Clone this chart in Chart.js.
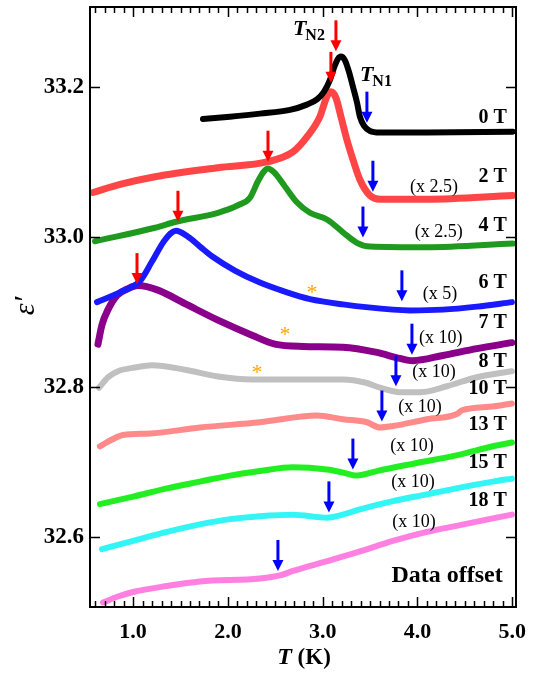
<!DOCTYPE html>
<html>
<head>
<meta charset="utf-8">
<script src="https://cdn.jsdelivr.net/npm/chart.js@4.4.1/dist/chart.umd.min.js"></script>
<style>
  body { margin: 0; background: #fff; }
  canvas { display: block; }
</style>
</head>
<body>
<canvas id="chart-1" width="536" height="677"></canvas>
<script>
// epsilon' vs T at each field, curves offset vertically
const fields = ["0 T", "2 T", "4 T", "6 T", "7 T", "8 T", "10 T", "13 T", "15 T", "18 T"];
const gains = ["", "(x 2.5)", "(x 2.5)", "(x 5)", "(x 10)", "(x 10)", "(x 10)", "(x 10)", "(x 10)", "(x 10)"];

const t0T = [1.737, 2.022, 2.338, 2.655, 2.834, 2.94, 3.013, 3.077, 3.119, 3.161, 3.193, 3.235, 3.277, 3.319, 3.362, 3.393, 3.435, 3.499, 3.604, 4.1, 5.007];
const e0T = [33.157, 33.160, 33.164, 33.169, 33.176, 33.183, 33.193, 33.209, 33.225, 33.237, 33.240, 33.235, 33.220, 33.200, 33.179, 33.160, 33.148, 33.141, 33.139, 33.139, 33.140];

const t2T = [0.577, 0.872, 1.231, 1.895, 2.423, 2.686, 2.834, 2.971, 3.045, 3.087, 3.140, 3.193, 3.256, 3.319, 3.393, 3.499, 3.604, 4.1, 5.007];
const e2T = [33.059, 33.070, 33.080, 33.092, 33.100, 33.113, 33.133, 33.160, 33.187, 33.193, 33.185, 33.160, 33.129, 33.103, 33.076, 33.055, 33.050, 33.050, 33.055];

const t4T = [0.598, 1.231, 1.452, 1.895, 2.106, 2.233, 2.317, 2.380, 2.423, 2.486, 2.602, 2.728, 2.866, 3.045, 3.214, 3.362, 3.499, 4.1, 5.007];
const e4T = [32.994, 33.012, 33.020, 33.032, 33.042, 33.052, 33.074, 33.087, 33.091, 33.086, 33.067, 33.046, 33.032, 33.023, 33.006, 32.992, 32.987, 32.986, 32.991];

const t6T = [0.619, 0.861, 1.072, 1.199, 1.336, 1.452, 1.579, 1.705, 1.832, 2.074, 2.338, 2.623, 2.866, 3.214, 3.741, 3.921, 4.269, 4.627, 4.997];
const e6T = [32.913, 32.926, 32.941, 32.967, 32.996, 33.008, 33.000, 32.987, 32.974, 32.955, 32.939, 32.926, 32.917, 32.910, 32.903, 32.902, 32.903, 32.907, 32.913];

const t7T = [0.629, 0.672, 0.735, 0.830, 0.946, 1.051, 1.262, 1.547, 1.895, 2.254, 2.497, 2.792, 3.214, 3.572, 3.815, 3.952, 4.269, 4.627, 4.997];
const e7T = [32.857, 32.883, 32.903, 32.922, 32.931, 32.935, 32.929, 32.911, 32.889, 32.869, 32.857, 32.854, 32.853, 32.846, 32.838, 32.835, 32.842, 32.851, 32.859];

const t8T = [0.640, 0.735, 0.840, 1.020, 1.199, 1.547, 1.895, 2.254, 2.792, 3.214, 3.446, 3.604, 3.815, 4.026, 4.311, 4.627, 4.997];
const e8T = [32.799, 32.813, 32.821, 32.826, 32.829, 32.823, 32.814, 32.810, 32.810, 32.810, 32.806, 32.799, 32.793, 32.793, 32.801, 32.813, 32.821];

const t10T = [0.650, 0.777, 0.893, 1.178, 1.705, 2.338, 2.940, 3.214, 3.467, 3.604, 3.741, 4.1, 4.416, 4.469, 4.796, 4.997];
const e10T = [32.721, 32.730, 32.736, 32.738, 32.746, 32.753, 32.762, 32.757, 32.753, 32.746, 32.748, 32.757, 32.764, 32.769, 32.774, 32.778];

const t13T = [0.650, 0.999, 1.357, 1.705, 2.022, 2.338, 2.686, 3.045, 3.214, 3.362, 3.572, 3.921, 4.448, 4.796, 4.997];
const e13T = [32.644, 32.654, 32.665, 32.674, 32.682, 32.688, 32.693, 32.690, 32.686, 32.682, 32.688, 32.697, 32.710, 32.721, 32.726];

const t15T = [0.672, 0.999, 1.357, 1.705, 2.022, 2.338, 2.686, 3.045, 3.182, 3.393, 3.741, 4.1, 4.448, 4.796, 4.997];
const e15T = [32.584, 32.595, 32.607, 32.617, 32.624, 32.628, 32.630, 32.626, 32.629, 32.637, 32.648, 32.657, 32.666, 32.674, 32.678];

const t18T = [0.682, 0.840, 0.999, 1.357, 1.705, 2.338, 2.549, 2.686, 3.045, 3.393, 3.741, 4.1, 4.448, 4.796, 4.997];
const e18T = [32.513, 32.521, 32.527, 32.535, 32.541, 32.545, 32.549, 32.555, 32.568, 32.581, 32.595, 32.607, 32.616, 32.625, 32.630];

// T_N2 (red arrows, 0-7 T) and T_N1 (blue arrows, all fields)
const tn2T = [3.140, 3.087, 2.423, 1.473, 1.041];
const tn2E = [33.247, 33.205, 33.100, 33.020, 32.937];
const tn1T = [3.467, 3.530, 3.425, 3.836, 3.942, 3.773, 3.625, 3.319, 3.066, 2.528];
const tn1E = [33.152, 33.060, 32.999, 32.914, 32.843, 32.801, 32.754, 32.690, 32.633, 32.555];

// extra anomalies (6, 7, 8 T)
const starT = [2.887, 2.602, 2.307];
const starE = [32.930, 32.874, 32.823];

const xTicks = [1, 2, 3, 4, 5];
const yTicks = [32.6, 32.8, 33.0, 33.2];

const temps = [t0T, t2T, t4T, t6T, t7T, t8T, t10T, t13T, t15T, t18T];
const eps = [e0T, e2T, e4T, e6T, e7T, e8T, e10T, e13T, e15T, e18T];
const colors = ["#000000", "#ff4545", "#1f9a1f", "#1a1aff", "#8b008b", "#c0c0c0", "#ff8a8a", "#22ee22", "#33f5f5", "#ff80e0"];
const widths = [6, 7, 6, 6, 7, 6, 6, 6, 6, 6];

const SERIF = '"Liberation Serif", "Times New Roman", serif';

const decor = {
  id: "decor",
  afterDatasetsDraw(chart) {
    const { ctx, chartArea: a, scales: { x, y } } = chart;
    ctx.save();

    const arrow = (t, e, color) => {
      const px = x.getPixelForValue(t), py = y.getPixelForValue(e);
      ctx.strokeStyle = color;
      ctx.fillStyle = color;
      ctx.lineWidth = 3;
      ctx.beginPath();
      ctx.moveTo(px, py - 31);
      ctx.lineTo(px, py - 9);
      ctx.stroke();
      ctx.beginPath();
      ctx.moveTo(px - 5.5, py - 11);
      ctx.lineTo(px + 5.5, py - 11);
      ctx.lineTo(px, py);
      ctx.closePath();
      ctx.fill();
    };
    tn2T.forEach((t, i) => arrow(t, tn2E[i], "#ff0000"));
    tn1T.forEach((t, i) => arrow(t, tn1E[i], "#0000ff"));

    ctx.fillStyle = "#ffa500";
    ctx.font = "22px " + SERIF;
    ctx.textAlign = "center";
    ctx.textBaseline = "middle";
    starT.forEach((t, i) => ctx.fillText("*", x.getPixelForValue(t), y.getPixelForValue(starE[i]) + 4));

    // frame with inward ticks
    ctx.strokeStyle = "#000";
    ctx.lineWidth = 2;
    ctx.strokeRect(a.left, a.top, a.width, a.height);
    ctx.lineWidth = 1.5;
    ctx.beginPath();
    for (let i = 6; i <= 50; i++) {
      const px = Math.round(x.getPixelForValue(i / 10)) + 0.5;
      const len = i % 10 === 0 ? 10 : 6;
      ctx.moveTo(px, a.bottom);
      ctx.lineTo(px, a.bottom - len);
      ctx.moveTo(px, a.top);
      ctx.lineTo(px, a.top + len);
    }
    yTicks.forEach(v => {
      const py = Math.round(y.getPixelForValue(v)) + 0.5;
      ctx.moveTo(a.left, py);
      ctx.lineTo(a.left + 10, py);
      ctx.moveTo(a.right, py);
      ctx.lineTo(a.right - 10, py);
    });
    ctx.stroke();

    // field labels and gain factors
    ctx.fillStyle = "#000";
    ctx.textAlign = "right";
    ctx.textBaseline = "middle";
    const labelE = [33.159, 33.080, 33.014, 32.939, 32.886, 32.834, 32.797, 32.750, 32.699, 32.648];
    ctx.font = "bold 20px " + SERIF;
    fields.forEach((f, i) => ctx.fillText(f, x.getPixelForValue(4.944), y.getPixelForValue(labelE[i])));
    ctx.font = "bold 24px " + SERIF;
    ctx.fillText("Data offset", x.getPixelForValue(4.90), y.getPixelForValue(32.548));

    const gainT = [0, 4.174, 4.226, 4.237, 4.247, 4.174, 4.026, 3.942, 3.952, 3.963];
    const gainE = [0, 33.066, 33.006, 32.923, 32.865, 32.819, 32.773, 32.721, 32.673, 32.620];
    ctx.font = "18px " + SERIF;
    ctx.textAlign = "center";
    gains.forEach((g, i) => {
      if (g) ctx.fillText(g, x.getPixelForValue(gainT[i]), y.getPixelForValue(gainE[i]));
    });

    // T_N2 / T_N1 markers
    const tn = (sub, t, e) => {
      const px = x.getPixelForValue(t), py = y.getPixelForValue(e);
      ctx.textAlign = "left";
      ctx.textBaseline = "alphabetic";
      ctx.font = "italic bold 22px " + SERIF;
      ctx.fillText("T", px, py);
      const w = ctx.measureText("T").width;
      ctx.font = "bold 16px " + SERIF;
      ctx.fillText(sub, px + w - 1, py + 5);
    };
    tn("N2", 2.686, 33.269);
    tn("N1", 3.393, 33.207);

    // axis titles
    ctx.textBaseline = "middle";
    ctx.font = "italic bold 24px " + SERIF;
    const tw = ctx.measureText("T").width;
    ctx.font = "bold 23px " + SERIF;
    const kw = ctx.measureText(" (K)").width;
    const cx = (a.left + a.right) / 2 + 1;
    ctx.textAlign = "left";
    ctx.font = "italic bold 24px " + SERIF;
    ctx.fillText("T", cx - (tw + kw) / 2, 658);
    ctx.font = "bold 23px " + SERIF;
    ctx.fillText(" (K)", cx - (tw + kw) / 2 + tw, 658);

    ctx.translate(26, 306);
    ctx.rotate(-Math.PI / 2);
    ctx.textAlign = "center";
    ctx.font = "italic 30px " + SERIF;
    ctx.fillText("\u03b5\u2032", 0, 0);

    ctx.restore();
  }
};

const ctx1 = document.getElementById("chart-1").getContext("2d");
const myChart = new Chart(ctx1, {
  type: "scatter",
  data: {
    datasets: fields.map((f, i) => ({
      label: f,
      data: temps[i].map((t, j) => ({ x: t, y: eps[i][j] })),
      showLine: true,
      borderColor: colors[i],
      backgroundColor: colors[i],
      borderWidth: widths[i],
      borderCapStyle: "round",
      borderJoinStyle: "round",
      pointRadius: 0,
      cubicInterpolationMode: "monotone",
    })),
  },
  options: {
    responsive: false,
    animation: false,
    devicePixelRatio: 1,
    layout: { padding: { left: 0, right: 20, top: 7, bottom: 0 } },
    plugins: { legend: { display: false }, tooltip: { enabled: false } },
    scales: {
      x: {
        type: "linear",
        min: 0.545,
        max: 5.04,
        grid: { display: false, drawTicks: false },
        border: { display: false },
        afterBuildTicks: s => { s.ticks = xTicks.map(v => ({ value: v })); },
        afterFit: s => { s.height = 70; s.paddingLeft = 0; s.paddingRight = 0; },
        ticks: {
          autoSkip: false,
          maxRotation: 0,
          padding: 12,
          color: "#000",
          font: { family: SERIF, size: 22, weight: "bold" },
          callback: v => v.toFixed(1),
        },
      },
      y: {
        type: "linear",
        min: 32.507,
        max: 33.306,
        grid: { display: false, drawTicks: false },
        border: { display: false },
        afterBuildTicks: s => { s.ticks = yTicks.map(v => ({ value: v })); },
        afterFit: s => { s.width = 90; s.paddingTop = 0; s.paddingBottom = 0; },
        ticks: {
          autoSkip: false,
          padding: 6,
          color: "#000",
          font: { family: SERIF, size: 23, weight: "bold" },
          callback: v => v.toFixed(1),
        },
      },
    },
  },
  plugins: [decor],
});
</script>
</body>
</html>
